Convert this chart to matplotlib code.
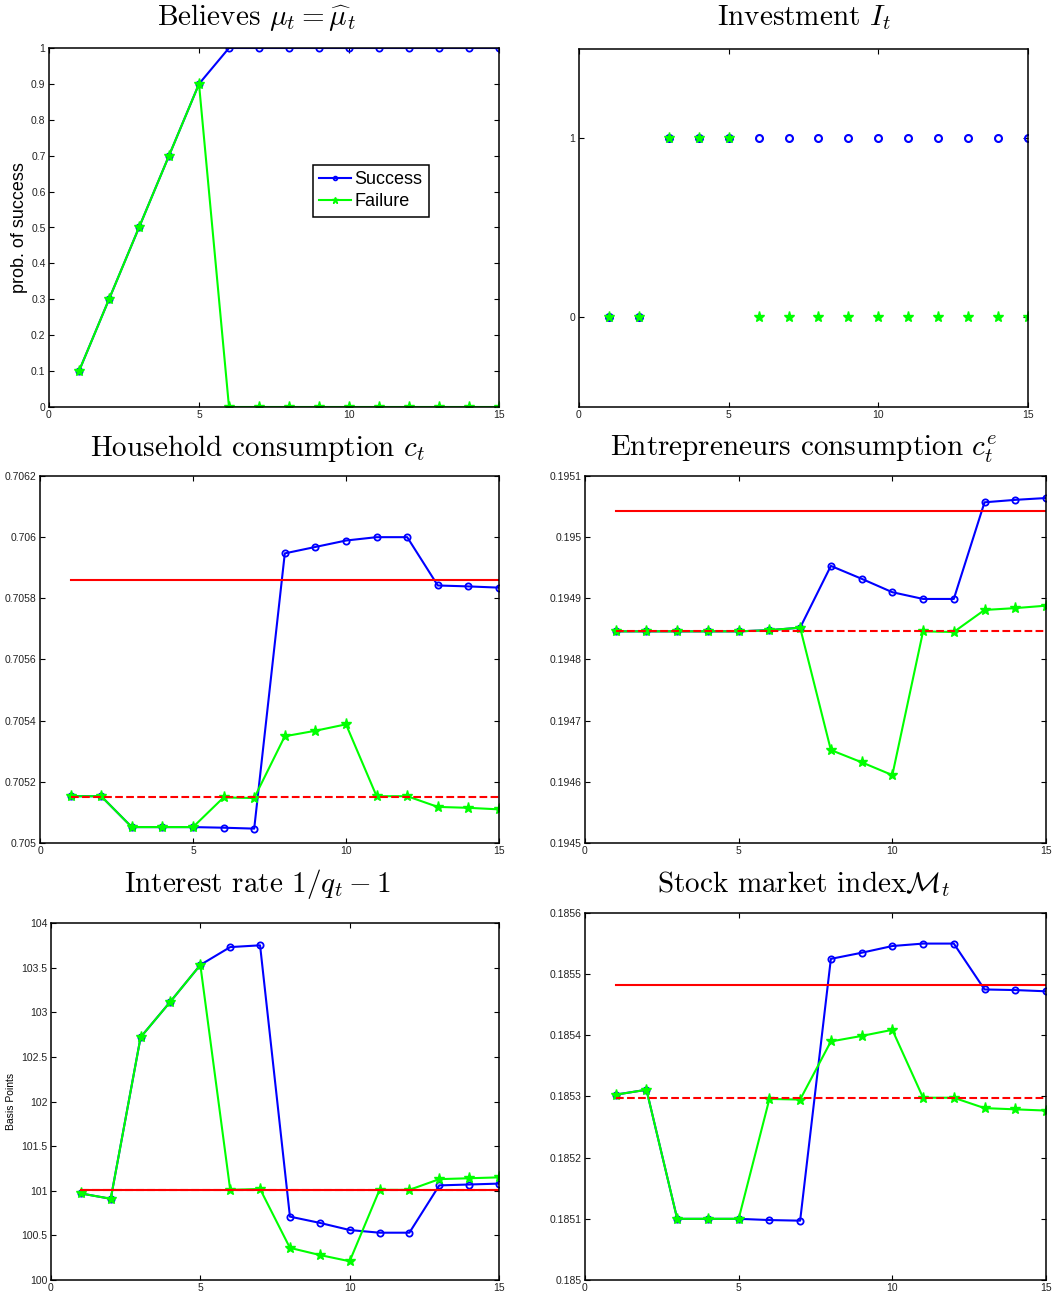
import matplotlib
matplotlib.use("Agg")
import matplotlib.pyplot as plt
from matplotlib.ticker import MultipleLocator, FuncFormatter

plt.rcParams['font.family'] = ['Liberation Sans', 'DejaVu Sans']
plt.rcParams['mathtext.fontset'] = 'cm'

# periods
t = [1, 2, 3, 4, 5, 6, 7, 8, 9, 10, 11, 12, 13, 14, 15]

# beliefs
belief_success = [0.1, 0.3, 0.5, 0.7, 0.9, 1, 1, 1, 1, 1, 1, 1, 1, 1, 1]
belief_failure = [0.1, 0.3, 0.5, 0.7, 0.9, 0, 0, 0, 0, 0, 0, 0, 0, 0, 0]

# investment
invest_success = [0, 0, 1, 1, 1, 1, 1, 1, 1, 1, 1, 1, 1, 1, 1]
invest_failure = [0, 0, 1, 1, 1, 0, 0, 0, 0, 0, 0, 0, 0, 0, 0]

# household consumption
hh_success = [0.705153, 0.705153, 0.705052, 0.705052, 0.705052, 0.705050, 0.705047,
              0.705947, 0.705968, 0.705989, 0.706000, 0.706000, 0.705842, 0.705839, 0.705835]
hh_failure = [0.705153, 0.705153, 0.705052, 0.705052, 0.705052, 0.705149, 0.705147,
              0.705349, 0.705367, 0.705388, 0.705153, 0.705153, 0.705118, 0.705115, 0.705110]
hh_ss = [0.705859, 0.705152]

# entrepreneurs consumption
ent_success = [0.194846, 0.194846, 0.194846, 0.194846, 0.194846, 0.194848, 0.194852,
               0.194953, 0.194932, 0.194910, 0.194899, 0.194899, 0.195057, 0.195061, 0.195064]
ent_failure = [0.194846, 0.194846, 0.194846, 0.194846, 0.194846, 0.194848, 0.194852,
               0.194652, 0.194632, 0.194611, 0.194846, 0.194845, 0.194881, 0.194884, 0.194888]
ent_ss = [0.195042, 0.194846]

# interest rate (basis points)
rate_success = [100.97, 100.91, 102.72, 103.12, 103.53, 103.73, 103.75,
                100.71, 100.64, 100.56, 100.53, 100.53, 101.06, 101.07, 101.08]
rate_failure = [100.97, 100.91, 102.72, 103.12, 103.53, 101.01, 101.02,
                100.36, 100.28, 100.21, 101.01, 101.01, 101.13, 101.14, 101.15]
rate_ss = [101.01, 101.01]

# stock market index
stock_success = [0.185303, 0.185311, 0.185100, 0.185100, 0.185100, 0.185098, 0.185097,
                 0.185525, 0.185535, 0.185546, 0.185550, 0.185550, 0.185475, 0.185474, 0.185472]
stock_failure = [0.185303, 0.185311, 0.185100, 0.185100, 0.185100, 0.185296, 0.185295,
                 0.185390, 0.185399, 0.185409, 0.185298, 0.185298, 0.185281, 0.185279, 0.185277]
stock_ss = [0.185483, 0.185297]

W, H = 1058, 1300
fig = plt.figure(figsize=(W / 100, H / 100), dpi=100)


def make_axes(left, right, top, bottom):
    return fig.add_axes([left / W, 1 - bottom / H, (right - left) / W, (bottom - top) / H])


def style(ax, ylim, ystep):
    ax.set_xlim(0, 15)
    ax.set_ylim(*ylim)
    ax.xaxis.set_major_locator(MultipleLocator(5))
    ax.yaxis.set_major_locator(MultipleLocator(ystep))
    fmt = FuncFormatter(lambda v, p: '%g' % round(v, 6))
    ax.xaxis.set_major_formatter(fmt)
    ax.yaxis.set_major_formatter(fmt)
    ax.tick_params(direction='in', top=True, right=True, length=3.6, width=0.8,
                   labelsize=7.5, pad=2.5, labelcolor='#222222')
    for s in ax.spines.values():
        s.set_linewidth(1.1)


def paths(ax, ys, yf, ms_c=4.5, ms_s=8):
    ax.plot(t, ys, '-o', color='#0000ff', lw=1.5, ms=ms_c, mfc='none', mew=1.3, label='Success')
    ax.plot(t, yf, '-*', color='#00ff00', lw=1.5, ms=ms_s, label='Failure')


def steady(ax, ss):
    ax.plot([t[0], t[-1]], [ss[1], ss[1]], '--', color='#ff0000', lw=1.5)
    ax.plot([t[0], t[-1]], [ss[0], ss[0]], '-', color='#ff0000', lw=1.5)


def title(x, y, s):
    fig.text(x / W, 1 - y / H, s, ha='center', va='baseline', fontsize=21,
             family='cmr10')


# beliefs
ax1 = make_axes(49, 499, 48, 407)
paths(ax1, belief_success, belief_failure)
style(ax1, (0, 1), 0.1)
ax1.set_ylabel('prob. of success', fontsize=13, labelpad=2)
leg = ax1.legend(loc='upper left', bbox_to_anchor=(0.586, 0.675), fontsize=13,
                 fancybox=False, edgecolor='black', framealpha=1, markerscale=0.6,
                 handlelength=1.75, handletextpad=0.2, borderpad=0.35,
                 labelspacing=0.3, borderaxespad=0)
leg.get_frame().set_linewidth(1.1)
title(257, 25, r'Believes $\mu_t = \widehat{\mu}_t$')

# investment
ax2 = make_axes(579, 1028, 49, 407)
ax2.plot(t, invest_success, 'o', color='#0000ff', ms=5, mfc='none', mew=1.5)
ax2.plot(t, invest_failure, '*', color='#00ff00', ms=8)
style(ax2, (-0.5, 1.5), 1)
title(804, 25, r'Investment $I_t$')

# household consumption
ax3 = make_axes(40, 499, 476, 843)
paths(ax3, hh_success, hh_failure)
steady(ax3, hh_ss)
style(ax3, (0.705, 0.7062), 0.0002)
title(257, 456, r'Household consumption $c_t$')

# entrepreneurs consumption
ax4 = make_axes(585, 1046, 476, 843)
paths(ax4, ent_success, ent_failure)
steady(ax4, ent_ss)
style(ax4, (0.1945, 0.1951), 0.0001)
title(804, 456, r'Entrepreneurs consumption $c_t^e$')

# interest rate
ax5 = make_axes(51, 499, 923, 1280)
paths(ax5, rate_success, rate_failure)
steady(ax5, rate_ss)
style(ax5, (100, 104), 0.5)
ax5.set_ylabel('Basis Points', fontsize=7.5, labelpad=4)
title(257, 892, r'Interest rate $1/q_t - 1$')

# stock market index
ax6 = make_axes(585, 1046, 913, 1280)
paths(ax6, stock_success, stock_failure)
steady(ax6, stock_ss)
style(ax6, (0.185, 0.1856), 0.0001)
title(804, 892, r'Stock market index$\mathcal{M}_t$')

fig.savefig('out.png', dpi=100)
